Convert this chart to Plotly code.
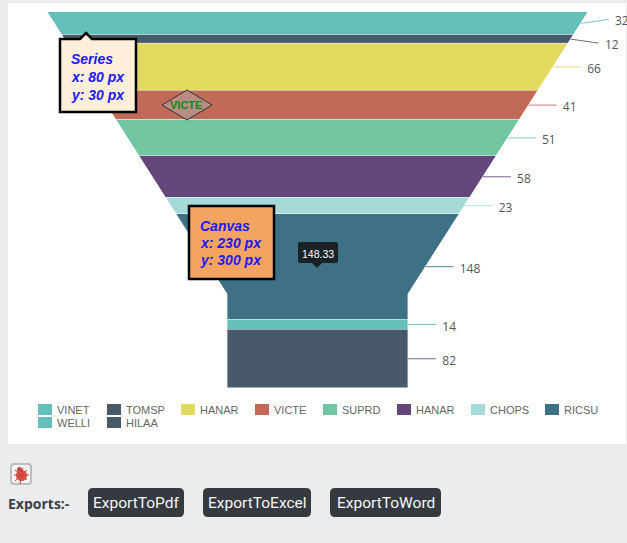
import plotly.graph_objects as go

W = 627
H = 543

categories = ['VINET', 'TOMSP', 'HANAR', 'VICTE', 'SUPRD', 'HANAR', 'CHOPS', 'RICSU', 'WELLI', 'HILAA']
values = [32, 12, 66, 41, 51, 58, 23, 148, 14, 82]
colors = ['#65C0BB', '#47596B', '#E2DA5F', '#C26A58', '#72C6A1',
          '#63467A', '#A5DAD8', '#3E7186', '#65C0BB', '#47596B']
export_buttons = ['ExportToPdf', 'ExportToExcel', 'ExportToWord']

total = sum(values)
neck_height = 0.25
neck_width = 0.335
neck_start = total * (1 - neck_height)

# funnel box in page pixels
left, right, top, bottom = 47, 588, 12, 388
center = (left + right) / 2
half = (right - left) / 2
conn_len = 28 / half
per_px = total / (bottom - top)


def px(x):
    return x / W


def py(y):
    return 1 - y / H


def half_width(c):
    if c >= neck_start:
        return neck_width
    return 1 - (1 - neck_width) * c / neck_start


def rounded(x0, y0, x1, y1, r):
    return (f'M {px(x0 + r)} {py(y0)} L {px(x1 - r)} {py(y0)} Q {px(x1)} {py(y0)} {px(x1)} {py(y0 + r)} '
            f'L {px(x1)} {py(y1 - r)} Q {px(x1)} {py(y1)} {px(x1 - r)} {py(y1)} '
            f'L {px(x0 + r)} {py(y1)} Q {px(x0)} {py(y1)} {px(x0)} {py(y1 - r)} '
            f'L {px(x0)} {py(y0 + r)} Q {px(x0)} {py(y0)} {px(x0 + r)} {py(y0)} Z')


def poly(points):
    return 'M ' + ' L '.join(f'{px(a)} {py(b)}' for a, b in points) + ' Z'


fig = go.Figure()

# funnel segments
cum = 0
for name, val, col in zip(categories, values, colors):
    c0, c1 = cum, cum + val
    stops = [c0, c1]
    if c0 < neck_start < c1:
        stops = [c0, neck_start, c1]
    xs = [half_width(c) for c in stops] + [-half_width(c) for c in reversed(stops)]
    ys = stops + stops[::-1]
    fig.add_trace(go.Scatter(x=xs, y=ys, fill='toself', mode='lines', fillcolor=col, name=name,
                             line=dict(color='white', width=1), hoverinfo='skip', showlegend=False))
    cum = c1

# connector lines and value labels
rise = {0: -4, 1: 4}
cum = 0
for i, (val, col) in enumerate(zip(values, colors)):
    mid = cum + val / 2
    x0 = half_width(mid)
    mid2 = mid + rise.get(i, 0) * per_px
    fig.add_trace(go.Scatter(x=[x0, x0 + conn_len], y=[mid, mid2], mode='lines', hoverinfo='skip',
                             line=dict(color=col, width=1), opacity=0.85, showlegend=False))
    fig.add_trace(go.Scatter(x=[x0 + conn_len], y=[mid2 + 3 * per_px], mode='text', text=[f'  {val}'],
                             textposition='middle right', hoverinfo='skip', showlegend=False,
                             textfont=dict(family='Open Sans', size=12, color='#555555')))
    cum += val

shapes = [
    dict(type='rect', xref='paper', yref='paper', x0=px(8), x1=px(626), y0=py(3), y1=py(444),
         fillcolor='white', line_width=0, layer='below'),
    # diamond marker
    dict(type='path', xref='paper', yref='paper', path=poly([(162, 105), (187, 90), (212, 105), (187, 120)]),
         fillcolor='#B98C86', line=dict(color='#333333', width=1)),
    # series tooltip
    dict(type='path', xref='paper', yref='paper',
         path=poly([(60, 39), (80, 39), (86, 33), (92, 39), (136, 39), (136, 112), (60, 112)]),
         fillcolor='#FDEFD9', line=dict(color='black', width=2.5)),
    # canvas box
    dict(type='rect', xref='paper', yref='paper', x0=px(189), x1=px(274), y0=py(206), y1=py(279),
         fillcolor='#F4A460', line=dict(color='black', width=2.5)),
    # dark tooltip
    dict(type='path', xref='paper', yref='paper', path=rounded(298, 242, 338, 263, 2),
         fillcolor='#1A2226', line_width=0),
    dict(type='path', xref='paper', yref='paper', path=poly([(312, 263), (322, 263), (317, 268)]),
         fillcolor='#1A2226', line_width=0),
    # bug icon
    dict(type='path', xref='paper', yref='paper', path=rounded(11, 464, 31, 484, 3),
         fillcolor='#F4F4F4', line=dict(color='#BDBDBD', width=2)),
    dict(type='circle', xref='paper', yref='paper', x0=px(16), x1=px(27), y0=py(470), y1=py(481),
         fillcolor='#DE5045', line_width=0),
    dict(type='circle', xref='paper', yref='paper', x0=px(17), x1=px(22), y0=py(467), y1=py(472),
         fillcolor='#C8443B', line_width=0),
]

for a, b, c, d in [(15, 470, 27, 480), (14, 475, 29, 475), (15, 481, 27, 470), (23, 468, 20, 484)]:
    shapes.append(dict(type='line', xref='paper', yref='paper', x0=px(a), y0=py(b), x1=px(c), y1=py(d),
                       line=dict(color='#C8443B', width=1)))

annotations = []


def note(text, x, y, size, color, family='Liberation Sans', anchor='left', **font):
    # left anchored annotations sit about 2px right of x because of their padding
    if anchor == 'left':
        x -= 2
    annotations.append(dict(text=text, x=px(x), y=py(y), xref='paper', yref='paper', showarrow=False,
                            xanchor=anchor, yanchor='middle', align='left',
                            font=dict(family=family, size=size, color=color, **font)))


for text, y in [('Series', 59), ('x: 80 px', 77), ('y: 30 px', 95)]:
    note(text, 71, y, 14, '#1A1AFF', style='italic', weight='bold')
for text, y in [('Canvas', 226), ('x: 230 px', 243), ('y: 300 px', 260)]:
    note(text, 200, y, 14, '#1A1AFF', style='italic', weight='bold')
note('VICTE', 186, 105, 11, '#118A11', anchor='center', weight='bold')
note('148.33', 318, 254, 10.5, 'white', anchor='center')

# legend
legend_x = [38, 107, 181, 255, 323, 397, 471, 545, 38, 107]
legend_y = [410, 410, 410, 410, 410, 410, 410, 410, 423, 423]
for name, col, x, y in zip(categories, colors, legend_x, legend_y):
    shapes.append(dict(type='rect', xref='paper', yref='paper', x0=px(x), x1=px(x + 14), y0=py(y - 6), y1=py(y + 5),
                       fillcolor=col, line_width=0))
    note(name, x + 19, y, 11, '#666666')

# exports row
note('Exports:-', 8, 503, 14, '#3A4046', family='Open Sans', weight='bold')
for label, x0, x1 in zip(export_buttons, [88, 203, 330], [184, 311, 441]):
    shapes.append(dict(type='path', xref='paper', yref='paper', path=rounded(x0, 488, x1, 517, 5),
                       fillcolor='#343A40', line_width=0))
    note(label, (x0 + x1) / 2, 503, 15.5, '#F4F6F8', family='Roboto', anchor='center')

fig.update_layout(
    width=W, height=H, autosize=False,
    margin=dict(l=0, r=0, t=0, b=0),
    paper_bgcolor='#EBECEE', plot_bgcolor='rgba(0,0,0,0)',
    showlegend=False,
    xaxis=dict(visible=False, domain=[0, 1], range=[-center / half, (W - center) / half]),
    yaxis=dict(visible=False, domain=[py(bottom), py(top)], range=[total, 0]),
    shapes=shapes, annotations=annotations,
)

fig.write_html('out.html', config=dict(displayModeBar=False),
               post_script="document.body.style.margin='0';document.body.style.overflow='hidden';")
